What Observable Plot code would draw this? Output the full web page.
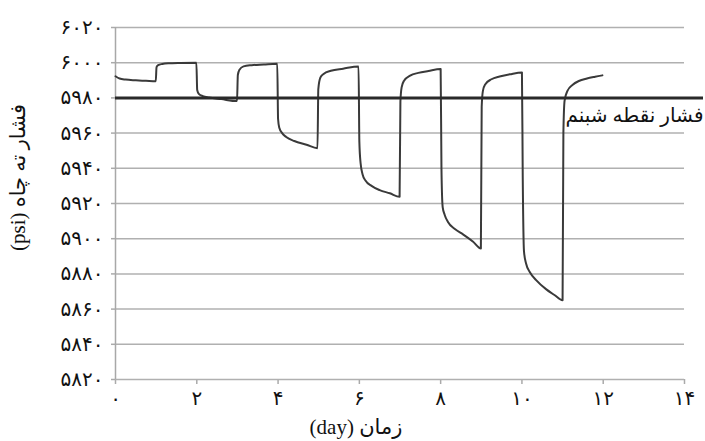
<!DOCTYPE html>
<html>
<head>
<meta charset="utf-8">
<script src="https://cdn.jsdelivr.net/npm/d3@7"></script>
<script src="https://cdn.jsdelivr.net/npm/@observablehq/plot@0.6"></script>
<style>
  html, body { margin: 0; padding: 0; background: #fff; }
  g[aria-label="y-axis tick"], g[aria-label="x-axis tick"] { stroke: #aaaaaa; stroke-width: 1.5; }
</style>
</head>
<body>
<div id="chart"></div>
<script>
// Time (day) and bottom-hole pressure (psi)
const days = [
  0.00, 0.10, 0.25, 0.50, 0.75, 0.99,
  1.01, 1.05, 1.15, 1.30, 1.60, 1.99,
  2.01, 2.05, 2.15, 2.30, 2.60, 2.99,
  3.01, 3.05, 3.15, 3.35, 3.65, 3.98,
  4.00, 4.03, 4.10, 4.20, 4.40, 4.70, 4.97,
  4.99, 5.04, 5.12, 5.30, 5.60, 5.98,
  6.00, 6.03, 6.08, 6.15, 6.30, 6.50, 6.75, 6.99,
  7.01, 7.04, 7.10, 7.25, 7.45, 7.70, 8.00,
  8.02, 8.05, 8.10, 8.18, 8.35, 8.55, 8.80, 8.99,
  9.01, 9.04, 9.10, 9.25, 9.45, 9.70, 10.00,
  10.02, 10.05, 10.10, 10.20, 10.35, 10.60, 10.80, 11.00,
  11.02, 11.05, 11.12, 11.25, 11.40, 11.60, 11.80, 11.98
];
const pressure = [
  5992.3, 5991.0, 5990.4, 5990.0, 5989.7, 5989.4,
  5997.5, 5998.6, 5999.3, 5999.7, 5999.9, 6000.0,
  5984.5, 5982.3, 5981.0, 5980.2, 5979.3, 5978.2,
  5993.0, 5996.0, 5997.9, 5998.6, 5999.0, 5999.4,
  5968.0, 5963.0, 5960.0, 5957.8, 5955.5, 5953.4, 5951.4,
  5985.0, 5991.5, 5993.6, 5995.4, 5996.6, 5997.9,
  5955.0, 5943.0, 5936.5, 5933.0, 5930.0, 5927.6, 5925.8, 5923.8,
  5978.0, 5986.0, 5989.8, 5992.7, 5994.2, 5995.3, 5996.4,
  5940.0, 5918.0, 5913.5, 5909.5, 5905.5, 5902.5, 5898.3, 5894.5,
  5975.0, 5984.0, 5987.8, 5990.6, 5992.2, 5993.4, 5994.5,
  5935.0, 5893.0, 5886.0, 5880.8, 5876.5, 5871.2, 5868.0, 5865.0,
  5960.0, 5978.5, 5984.0, 5987.5, 5989.6, 5991.0, 5992.0, 5992.8
];
const dewPoint = 5980;
const dewLabel = "فشار نقطه شبنم";
const xTicks = [0, 2, 4, 6, 8, 10, 12, 14];
const yTicks = [5820, 5840, 5860, 5880, 5900, 5920, 5940, 5960, 5980, 6000, 6020];
const xTitle = "(day) زمان";
const yTitle = "(psi) فشار ته چاه";

const faDigits = "۰۱۲۳۴۵۶۷۸۹";
const fa = d => String(d).replace(/\d/g, c => faDigits[+c]);
const series = days.map((d, i) => ({day: d, p: pressure[i]}));

const chart = Plot.plot({
  width: 705,
  height: 441,
  marginLeft: 115,
  marginRight: 21,
  marginTop: 27,
  marginBottom: 62,
  style: {fontFamily: "'Liberation Serif', 'DejaVu Sans', serif", fontSize: "20px", color: "#111"},
  x: {domain: [0, 14], ticks: xTicks, tickFormat: fa, tickSize: 5, tickPadding: 6, label: null},
  y: {domain: [5820, 6020], ticks: yTicks, tickFormat: fa, tickSize: 4, tickPadding: 8, label: null},
  marks: [
    Plot.ruleY(yTicks, {stroke: "#b0b0b0", strokeWidth: 1.5}),
    Plot.ruleX([0], {stroke: "#a8a8a8", strokeWidth: 1.5}),
    Plot.text([dewLabel], {text: d => d, frameAnchor: "right", y: () => dewPoint, textAnchor: "end", lineAnchor: "middle", dx: 19, dy: 18, fontSize: 20, fill: "#111", stroke: "white", strokeWidth: 8}),
    Plot.line(series, {x: "day", y: "p", curve: "monotone-x", stroke: "#3a3a3a", strokeWidth: 2}),
    Plot.ruleY([dewPoint], {stroke: "#2a2a2a", strokeWidth: 3, insetRight: -19}),
    Plot.text([xTitle], {text: d => d, frameAnchor: "bottom", textAnchor: "middle", lineAnchor: "middle", dx: -44, dy: 48, fontSize: 21, fill: "#111"}),
    Plot.text([yTitle], {text: d => d, frameAnchor: "left", textAnchor: "middle", lineAnchor: "middle", rotate: -90, dx: -97, dy: -26, fontSize: 21, fill: "#111"})
  ]
});
document.getElementById("chart").appendChild(chart);
</script>
</body>
</html>
